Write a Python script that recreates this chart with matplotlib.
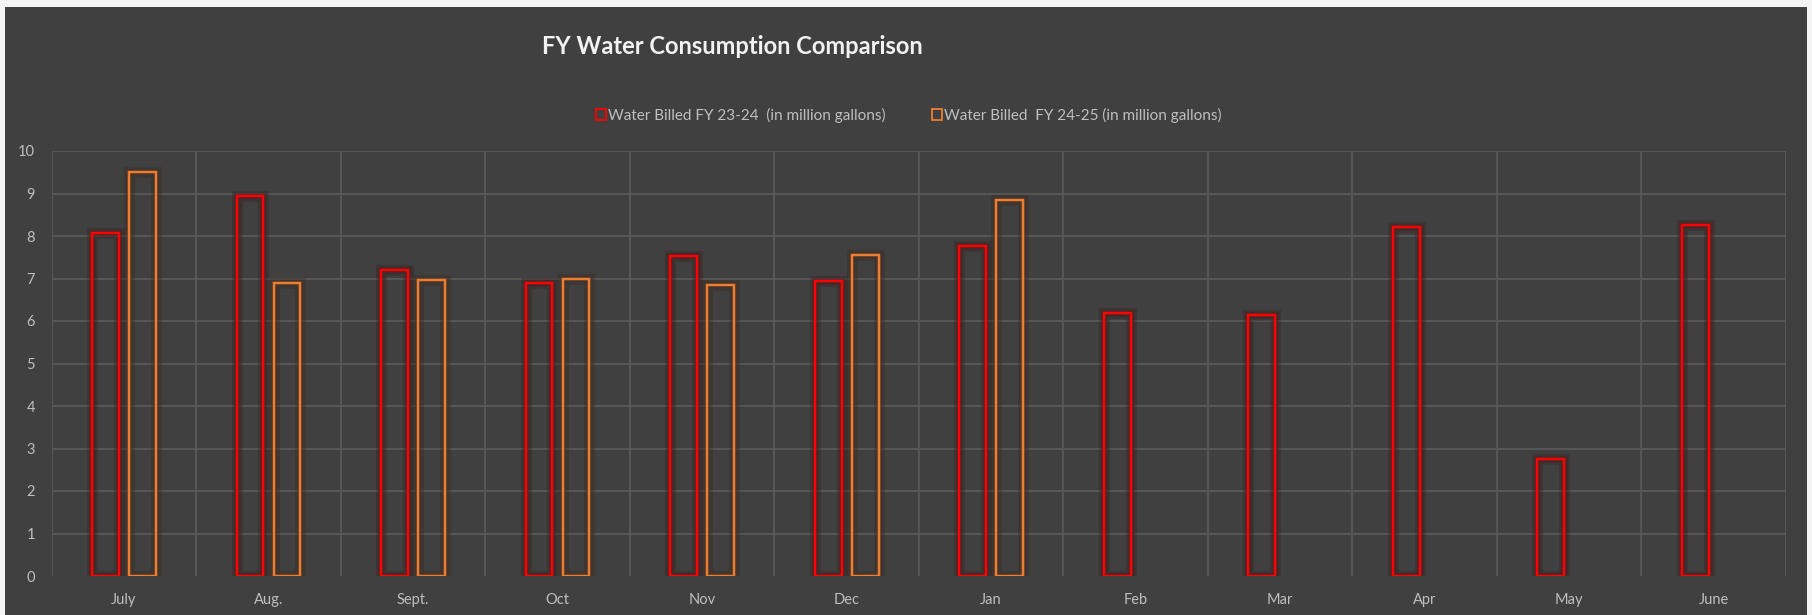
import matplotlib.pyplot as plt
import matplotlib.patheffects as pe
from matplotlib.patches import Patch, Rectangle
import numpy as np

months = ["July", "Aug.", "Sept.", "Oct", "Nov", "Dec", "Jan", "Feb", "Mar", "Apr", "May", "June"]
fy_23_24 = [8.08, 8.93, 7.19, 6.89, 7.53, 6.94, 7.76, 6.19, 6.15, 8.22, 2.75, 8.27]
fy_24_25 = [9.51, 6.90, 6.97, 6.99, 6.84, 7.56, 8.85]
series_labels = ["Water Billed FY 23-24  (in million gallons)",
                 "Water Billed  FY 24-25 (in million gallons)"]

bg = "#404040"
grid_col = "#595959"
text_col = "#bfbfbf"
red = "#ff0000"
orange = "#ed7d31"

plt.rcParams['font.family'] = ['Lato', 'DejaVu Sans']

fig = plt.figure(figsize=(18.12, 6.15), dpi=100, facecolor="#f4f4f4")
# dark chart area inside the thin light frame
fig.add_artist(Rectangle((5 / 1812, 0), 1802 / 1812, 608 / 615,
                         transform=fig.transFigure, facecolor=bg,
                         edgecolor="none", zorder=-10))

ax = fig.add_axes([51.7 / 1812, 39 / 615, (1786 - 51.7) / 1812, (576 - 151) / 615])
ax.set_facecolor(bg)

x = np.arange(len(months))
w = 0.186
off = 0.128

glow_red = [pe.withStroke(linewidth=8, foreground="#3a2020", alpha=0.35),
            pe.withStroke(linewidth=5, foreground="#4a1a1a", alpha=0.35),
            pe.Normal()]
glow_orange = [pe.withStroke(linewidth=8, foreground="#3a2a20", alpha=0.35),
               pe.withStroke(linewidth=5, foreground="#4a3020", alpha=0.35),
               pe.Normal()]

bars1 = ax.bar(x - off, fy_23_24, width=w, facecolor="none", edgecolor=red,
               linewidth=1.6, zorder=3)
bars2 = ax.bar(x[:len(fy_24_25)] + off, fy_24_25, width=w, facecolor="none",
               edgecolor=orange, linewidth=1.6, zorder=3)
for b in bars1:
    b.set_path_effects(glow_red)
for b in bars2:
    b.set_path_effects(glow_orange)

ax.set_xlim(-0.5, len(months) - 0.5)
ax.set_ylim(0, 10)
ax.set_yticks(range(0, 11))
ax.set_xticks(x)
ax.set_xticklabels(months)

# gridlines: horizontal at each unit, vertical between months
for yv in range(1, 11):
    ax.axhline(yv, color=grid_col, linewidth=1.3, zorder=1)
for xv in np.arange(-0.5, len(months) + 0.5, 1.0):
    ax.axvline(xv, color=grid_col, linewidth=1.3, zorder=1)

for s in ax.spines.values():
    s.set_visible(False)
ax.tick_params(axis="both", length=0, colors=text_col, labelsize=10.5)
ax.tick_params(axis="y", pad=12)
ax.tick_params(axis="x", pad=12)

fig.text(732 / 1812, 1 - 47 / 615, "FY Water Consumption Comparison",
         ha="center", va="center", fontsize=17, fontweight="bold", color="#f2f2f2")

handles = [Patch(facecolor="none", edgecolor=red, linewidth=1.3),
           Patch(facecolor="none", edgecolor=orange, linewidth=1.3)]
leg = fig.legend(handles, series_labels, loc="center",
                 bbox_to_anchor=(909 / 1812, 1 - 115 / 615), ncol=2, frameon=False,
                 fontsize=11, handlelength=0.65, handleheight=0.7, handletextpad=0.15,
                 columnspacing=3.0)
for t in leg.get_texts():
    t.set_color(text_col)

fig.savefig("out.png", dpi=100, facecolor=fig.get_facecolor())
